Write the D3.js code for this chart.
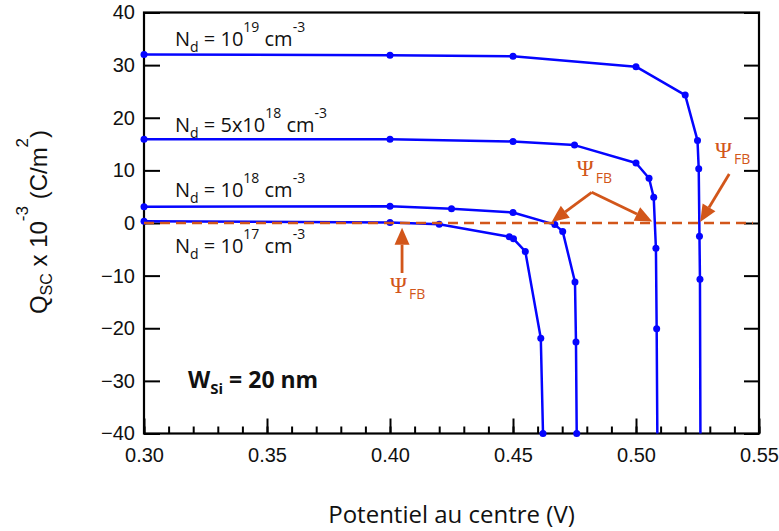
<!DOCTYPE html>
<html>
<head>
<meta charset="utf-8">
<script src="https://cdn.jsdelivr.net/npm/d3@7/dist/d3.min.js"></script>
<style>
  html, body { margin: 0; padding: 0; background: #fff; }
  svg { display: block; }
</style>
</head>
<body>
<svg id="chart" width="779" height="531"></svg>
<script>
// ---------------- data ----------------
const xTicksMajor = [0.30, 0.35, 0.40, 0.45, 0.50, 0.55];
const xTickLabels = ["0.30", "0.35", "0.40", "0.45", "0.50", "0.55"];
const yTicks = [40, 30, 20, 10, 0, -10, -20, -30, -40];

// N_d = 1e19
const s19x = [0.30, 0.40, 0.45, 0.50, 0.52, 0.525, 0.5255, 0.5258, 0.5260, 0.5262];
const s19y = [32.0, 31.9, 31.7, 29.7, 24.3, 15.7, 10.3, -2.5, -10.7, -42];
// N_d = 5e18
const s5x = [0.30, 0.40, 0.45, 0.475, 0.50, 0.5053, 0.5072, 0.5081, 0.5084, 0.5087];
const s5y = [15.9, 15.9, 15.5, 14.8, 11.4, 8.5, 4.9, -4.8, -20.1, -42];
// N_d = 1e18
const s18x = [0.30, 0.40, 0.425, 0.45, 0.467, 0.4702, 0.4752, 0.4756, 0.4759];
const s18y = [3.1, 3.2, 2.7, 2.0, -0.3, -1.6, -11.2, -22.6, -40];
// N_d = 1e17
const s17x = [0.30, 0.40, 0.42, 0.4485, 0.4502, 0.455, 0.4613, 0.4622];
const s17y = [0.35, 0.1, -0.25, -2.6, -3.0, -5.4, -21.9, -40];

const seriesNames = ["1e19", "5e18", "1e18", "1e17"];

// series labels: [x, y(baseline), mantissa, exponent]
const labelX = [0.3126, 0.3126, 0.3126, 0.3126];
const labelY = [33.6, 17.3, 4.9, -5.7];
const labelMant = ["10", "5x10", "10", "10"];
const labelExp = ["19", "18", "18", "17"];

// Psi_FB annotations (data coordinates)
const fbLineY = 0;
const arrowFrom = [[0.4049, -9.5], [0.4820, 5.84], [0.4820, 5.84], [0.5379, 9.3]];
const arrowTo   = [[0.4049, -0.9], [0.4657, 0.2], [0.5066, 0.3], [0.5261, 0.2]];
const psiLabelX = [0.4000, 0.4759, 0.5321];
const psiLabelY = [-13.3, 8.93, 12.41];

// ---------------- layout ----------------
const svg = d3.select("#chart");
const X0 = 144, X1 = 759, Y0 = 433.5, Y1 = 12.5;
const x = d3.scaleLinear().domain([0.30, 0.55]).range([X0, X1]);
const y = d3.scaleLinear().domain([-40, 40]).range([Y0, Y1]);

const BLUE = "#0505ff";
const ORANGE = "#d2561a";

svg.append("defs").append("clipPath").attr("id", "clip")
  .append("rect").attr("x", X0).attr("y", Y1).attr("width", X1 - X0).attr("height", Y0 - Y1);

// axes
const minorTicks = d3.range(30, 56).map(d => d / 100);
svg.append("g").attr("transform", `translate(0,${Y0})`)
  .call(d3.axisBottom(x).tickValues(minorTicks).tickSize(-7).tickFormat(""))
  .call(g => g.select(".domain").remove())
  .call(g => g.selectAll("line").attr("stroke", "#000").attr("stroke-width", 2));
svg.append("g").attr("transform", `translate(0,${Y0})`)
  .call(d3.axisBottom(x).tickValues(xTicksMajor).tickSize(-15).tickPadding(14)
        .tickFormat((d, i) => xTickLabels[i]))
  .call(g => g.select(".domain").remove())
  .call(g => g.selectAll("line").attr("stroke", "#000").attr("stroke-width", 2))
  .call(g => g.selectAll("text").attr("fill", "#111")
        .style("font-family", "'Liberation Sans', Arial, sans-serif").style("font-size", "20px"));
svg.append("g").attr("transform", `translate(${X0},0)`)
  .call(d3.axisLeft(y).tickValues(yTicks).tickSize(-16).tickPadding(9).tickFormat(d3.format("d")))
  .call(g => g.select(".domain").remove())
  .call(g => g.selectAll("line").attr("stroke", "#000").attr("stroke-width", 2))
  .call(g => g.selectAll("text").attr("fill", "#111")
        .style("font-family", "'Liberation Sans', Arial, sans-serif").style("font-size", "20px"));
svg.append("g").attr("transform", `translate(${X1},0)`)
  .call(d3.axisRight(y).tickValues(yTicks).tickSize(-15).tickFormat(""))
  .call(g => g.select(".domain").remove())
  .call(g => g.selectAll("line").attr("stroke", "#000").attr("stroke-width", 2));

svg.append("rect").attr("x", X0).attr("y", Y1).attr("width", X1 - X0).attr("height", Y0 - Y1)
  .attr("fill", "none").attr("stroke", "#000").attr("stroke-width", 2.2);

// series
const allSeries = [[s19x, s19y], [s5x, s5y], [s18x, s18y], [s17x, s17y]];
const line = d3.line().x(d => x(d[0])).y(d => y(d[1]));
const gS = svg.append("g");
allSeries.forEach(([xs, ys], i) => {
  const pts = xs.map((v, j) => [v, ys[j]]);
  gS.append("path").datum(pts).attr("d", line).attr("clip-path", "url(#clip)")
    .attr("fill", "none").attr("stroke", BLUE).attr("stroke-width", 2.5)
    .attr("stroke-linejoin", "round");
  gS.selectAll(null).data(pts.filter(p => p[1] >= -40)).enter().append("circle")
    .attr("cx", d => x(d[0])).attr("cy", d => y(d[1])).attr("r", 3.5).attr("fill", BLUE);
});

// dashed Psi_FB reference line
svg.append("line").attr("x1", x(0.30)).attr("x2", x(0.55) - 6)
  .attr("y1", y(fbLineY)).attr("y2", y(fbLineY))
  .attr("stroke", ORANGE).attr("stroke-width", 2.6).attr("stroke-dasharray", "10,6");

// arrows
const gA = svg.append("g");
arrowFrom.forEach((f, i) => {
  const t = arrowTo[i];
  const x1 = x(f[0]), y1 = y(f[1]), x2 = x(t[0]), y2 = y(t[1]);
  const ang = Math.atan2(y2 - y1, x2 - x1);
  const L = 17, W = 7.5;
  const bx = x2 - L * Math.cos(ang), by = y2 - L * Math.sin(ang);
  gA.append("line").attr("x1", x1).attr("y1", y1).attr("x2", bx).attr("y2", by)
    .attr("stroke", ORANGE).attr("stroke-width", 2.8);
  const px = -Math.sin(ang), py = Math.cos(ang);
  gA.append("path")
    .attr("d", `M${x2},${y2}L${bx + W * px},${by + W * py}L${bx - W * px},${by - W * py}Z`)
    .attr("fill", ORANGE);
});

// Psi_FB labels
psiLabelX.forEach((lx, i) => {
  const t = svg.append("text").attr("x", x(lx)).attr("y", y(psiLabelY[i])).attr("fill", ORANGE);
  t.append("tspan").text("Ψ").style("font-family", "'Liberation Serif', 'DejaVu Serif', serif")
    .style("font-size", "23px");
  t.append("tspan").text("FB").attr("dx", 2).attr("dy", 6.5)
    .style("font-family", "'Open Sans', sans-serif").style("font-size", "14px");
});

// series labels
const SANS = "'Open Sans', sans-serif";
labelX.forEach((lx, i) => {
  const t = svg.append("text").attr("x", x(lx)).attr("y", y(labelY[i])).attr("fill", "#111")
    .style("font-family", SANS).style("font-size", "20px");
  t.append("tspan").text("N");
  t.append("tspan").text("d").attr("dy", 6).style("font-size", "14px");
  t.append("tspan").text(" = " + labelMant[i]).attr("dy", -6);
  t.append("tspan").text(labelExp[i]).attr("dy", -14).style("font-size", "14px");
  t.append("tspan").text(" cm").attr("dy", 14);
  t.append("tspan").text("-3").attr("dy", -14).style("font-size", "14px");
});

// W_Si label
{
  const t = svg.append("text").attr("x", x(0.3179)).attr("y", y(-31.4)).attr("fill", "#111")
    .style("font-family", SANS).style("font-size", "23px").style("font-weight", "bold");
  t.append("tspan").text("W");
  t.append("tspan").text("Si").attr("dy", 6).style("font-size", "15px");
  t.append("tspan").text(" = 20 nm").attr("dy", -6);
}

// x title
svg.append("text").attr("x", (X0 + X1) / 2).attr("y", 523).attr("text-anchor", "middle")
  .attr("fill", "#111").style("font-family", SANS).style("font-size", "24px")
  .text("Potentiel au centre (V)");

// y title
{
  const t = svg.append("text").attr("transform", "translate(47,222) rotate(-90)")
    .attr("text-anchor", "middle").attr("fill", "#111")
    .style("font-family", "'Liberation Sans', Arial, sans-serif").style("font-size", "24px");
  t.append("tspan").text("Q");
  t.append("tspan").text("SC").attr("dy", 5).style("font-size", "16px");
  t.append("tspan").text(" x 10").attr("dy", -5);
  t.append("tspan").text("-3").attr("dy", -19).style("font-size", "17px");
  t.append("tspan").text(" (C/m").attr("dy", 19);
  t.append("tspan").text("2").attr("dy", -19).style("font-size", "17px");
  t.append("tspan").text(")").attr("dy", 19);
}
</script>
</body>
</html>
